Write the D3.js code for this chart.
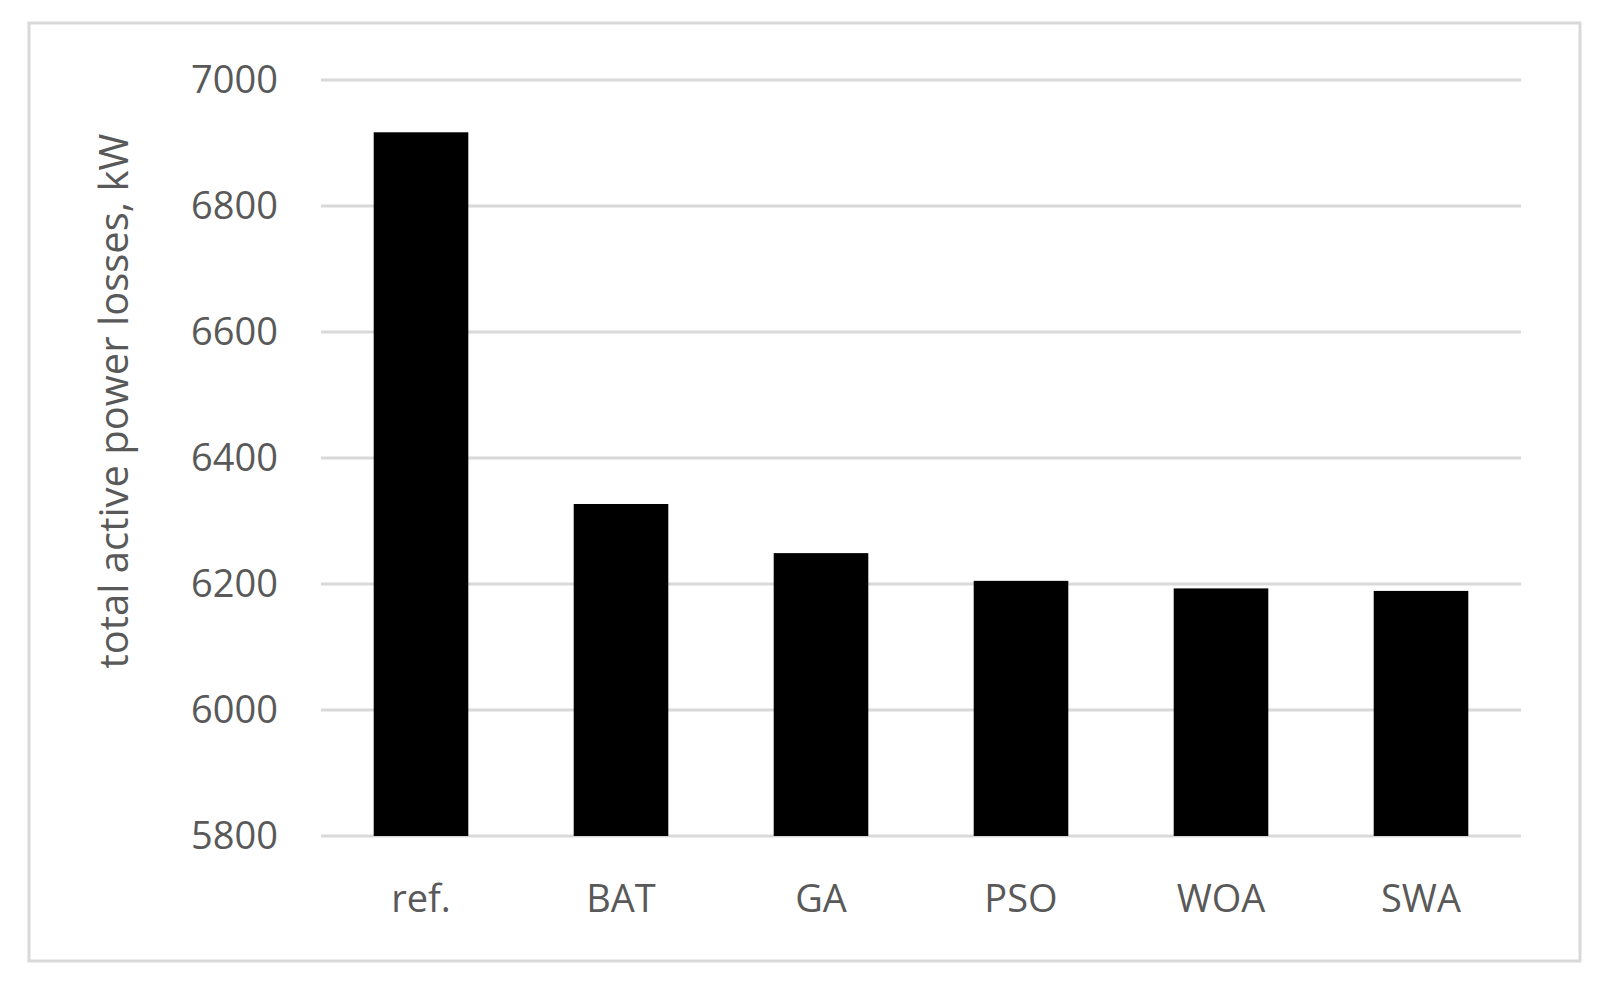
<!DOCTYPE html>
<html>
<head>
<meta charset="utf-8">
<script src="https://cdn.jsdelivr.net/npm/d3@7"></script>
<style>
  body { margin: 0; background: #fff; }
  text { font-family: "Open Sans", "Noto Sans", sans-serif; fill: #595959; }
</style>
</head>
<body>
<div id="graph"></div>
<script>
var categories = ["ref.", "BAT", "GA", "PSO", "WOA", "SWA"];
var losses = [6917, 6327, 6249, 6205, 6193, 6189];
var yTicks = [5800, 6000, 6200, 6400, 6600, 6800, 7000];

var svg = d3.select('#graph')
    .append('svg')
    .attr('width', 1611)
    .attr('height', 984);

// outer frame
svg.append('rect')
    .attr('x', 29).attr('y', 23)
    .attr('width', 1551).attr('height', 938)
    .attr('fill', 'none')
    .attr('stroke', '#d9d9d9')
    .attr('stroke-width', 3);

var x = d3.scaleBand()
    .domain(categories)
    .range([321, 1521])
    .paddingInner(0.527)
    .paddingOuter(0.2635);

var y = d3.scaleLinear()
    .domain([5800, 7000])
    .range([836, 80]);

// gridlines
svg.append('g')
    .selectAll('line')
    .data(yTicks)
    .enter()
    .append('line')
    .attr('x1', 321).attr('x2', 1521)
    .attr('y1', function(d) { return y(d); })
    .attr('y2', function(d) { return y(d); })
    .attr('stroke', '#d9d9d9')
    .attr('stroke-width', 3);

// y tick labels
svg.append('g')
    .selectAll('text')
    .data(yTicks)
    .enter()
    .append('text')
    .attr('x', 278)
    .attr('y', function(d) { return y(d); })
    .attr('dy', '0.35em')
    .attr('text-anchor', 'end')
    .attr('font-size', 38)
    .text(function(d) { return d; });

// bars
svg.append('g')
    .selectAll('rect')
    .data(losses)
    .enter()
    .append('rect')
    .attr('x', function(d, i) { return x(categories[i]); })
    .attr('y', function(d) { return y(d); })
    .attr('width', x.bandwidth())
    .attr('height', function(d) { return y(5800) - y(d); })
    .attr('fill', '#000');

// category labels
svg.append('g')
    .selectAll('text')
    .data(categories)
    .enter()
    .append('text')
    .attr('x', function(d) { return x(d) + x.bandwidth() / 2; })
    .attr('y', 912)
    .attr('text-anchor', 'middle')
    .attr('font-size', 38)
    .text(function(d) { return d; });

// y axis title
svg.append('text')
    .attr('transform', 'translate(128,401) rotate(-90)')
    .attr('text-anchor', 'middle')
    .attr('font-size', 40)
    .text('total active power losses, kW');
</script>
</body>
</html>
